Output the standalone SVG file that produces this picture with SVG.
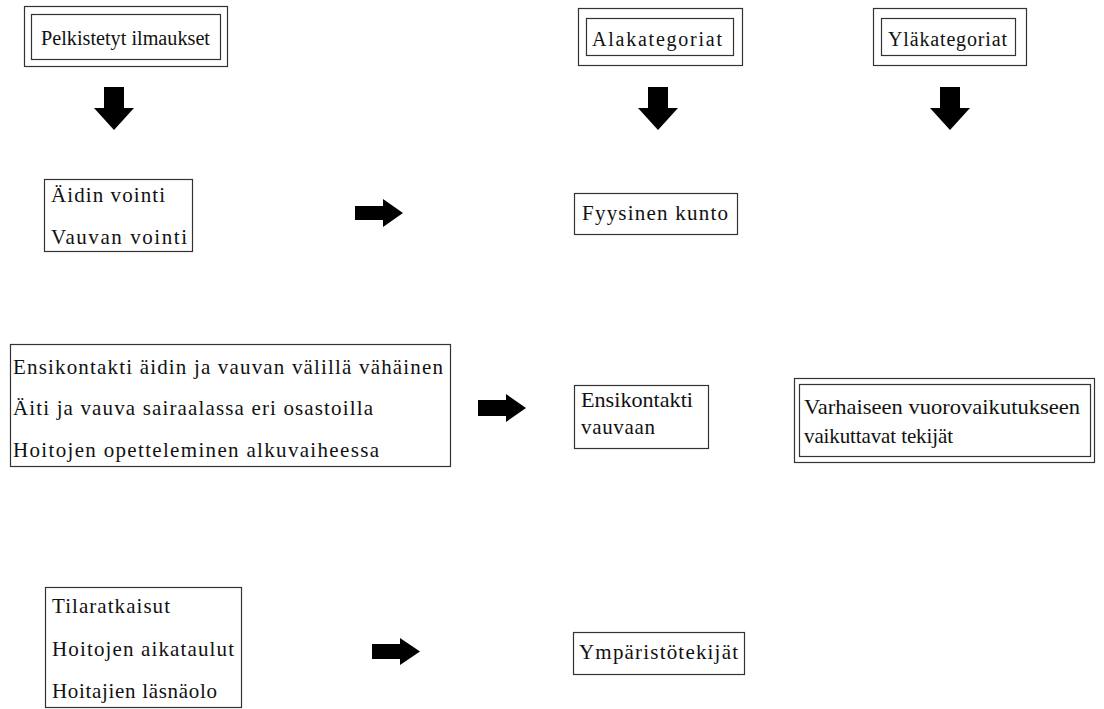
<svg xmlns="http://www.w3.org/2000/svg" width="1104" height="709" viewBox="0 0 1104 709">
<style>
.bx{fill:none;stroke:#333;stroke-width:1.2}
.t{font-family:'Liberation Serif','Times New Roman',serif;font-size:21px;fill:#111}
.h{font-size:20px}
.ar{fill:#000}
</style>
<rect width="1104" height="709" fill="#fff"/>
<g id="n-pelkistetyt">
<rect class="bx" x="24.5" y="6.5" width="203" height="60"/>
<rect class="bx" x="31.5" y="14.5" width="189" height="45"/>
<text class="t h" x="41" y="45" textLength="169" lengthAdjust="spacingAndGlyphs">Pelkistetyt ilmaukset</text>
</g>
<g id="n-alakategoriat">
<rect class="bx" x="578.5" y="8.5" width="164" height="57"/>
<rect class="bx" x="586.5" y="18.5" width="147" height="37"/>
<text class="t h" x="592" y="46" textLength="130" lengthAdjust="spacing">Alakategoriat</text>
</g>
<g id="n-ylakategoriat">
<rect class="bx" x="873.5" y="8.5" width="153" height="57"/>
<rect class="bx" x="881.5" y="18.5" width="134" height="37"/>
<text class="t h" x="888" y="46" textLength="119" lengthAdjust="spacing">Yläkategoriat</text>
</g>
<g id="n-voinnit">
<rect class="bx" x="44.5" y="179.5" width="148" height="72"/>
<text class="t" x="51" y="202" textLength="114" lengthAdjust="spacing">Äidin vointi</text>
<text class="t" x="51" y="244" textLength="136" lengthAdjust="spacing">Vauvan vointi</text>
</g>
<g id="n-fyysinen">
<rect class="bx" x="574.5" y="193.5" width="163" height="41"/>
<text class="t" x="582" y="220" textLength="146" lengthAdjust="spacing">Fyysinen kunto</text>
</g>
<g id="n-ensikontakti-ilm">
<rect class="bx" x="10.5" y="344.5" width="440" height="122"/>
<text class="t" x="13" y="374" textLength="430" lengthAdjust="spacing">Ensikontakti äidin ja vauvan välillä vähäinen</text>
<text class="t" x="13" y="415" textLength="360" lengthAdjust="spacing">Äiti ja vauva sairaalassa eri osastoilla</text>
<text class="t" x="13" y="457" textLength="366" lengthAdjust="spacing">Hoitojen opetteleminen alkuvaiheessa</text>
</g>
<g id="n-ensikontakti">
<rect class="bx" x="574.5" y="385.5" width="134" height="63"/>
<text class="t" x="581" y="407" textLength="112" lengthAdjust="spacingAndGlyphs">Ensikontakti</text>
<text class="t" x="581" y="434" textLength="74" lengthAdjust="spacing">vauvaan</text>
</g>
<g id="n-varhaiseen">
<rect class="bx" x="794.5" y="378.5" width="300" height="84"/>
<rect class="bx" x="799.5" y="384.5" width="291" height="72"/>
<text class="t" x="804" y="414" textLength="276" lengthAdjust="spacingAndGlyphs">Varhaiseen vuorovaikutukseen</text>
<text class="t" x="804" y="443" textLength="149" lengthAdjust="spacing">vaikuttavat tekijät</text>
</g>
<g id="n-tila">
<rect class="bx" x="45.5" y="587.5" width="196" height="120"/>
<text class="t" x="52" y="613" textLength="118" lengthAdjust="spacing">Tilaratkaisut</text>
<text class="t" x="52" y="656" textLength="182" lengthAdjust="spacing">Hoitojen aikataulut</text>
<text class="t" x="52" y="698" textLength="165" lengthAdjust="spacing">Hoitajien läsnäolo</text>
</g>
<g id="n-ymparisto">
<rect class="bx" x="573.5" y="632.5" width="171" height="42"/>
<text class="t" x="579" y="659" textLength="159" lengthAdjust="spacing">Ympäristötekijät</text>
</g>
<g id="connectors">
<polygon class="ar" points="104,87 124,87 124,108 134,108 114,130 94,108 104,108"/>
<polygon class="ar" points="648,87 668,87 668,108 678,108 658,130 638,108 648,108"/>
<polygon class="ar" points="940,87 960,87 960,108 970,108 950,130 930,108 940,108"/>
<polygon class="ar" points="355,206 383,206 383,199 403,213 383,227 383,220 355,220"/>
<polygon class="ar" points="478,400 506,400 506,394 526,408 506,422 506,416 478,416"/>
<polygon class="ar" points="372,644 400,644 400,638 420,651.5 400,665 400,659 372,659"/>
</g>
</svg>
